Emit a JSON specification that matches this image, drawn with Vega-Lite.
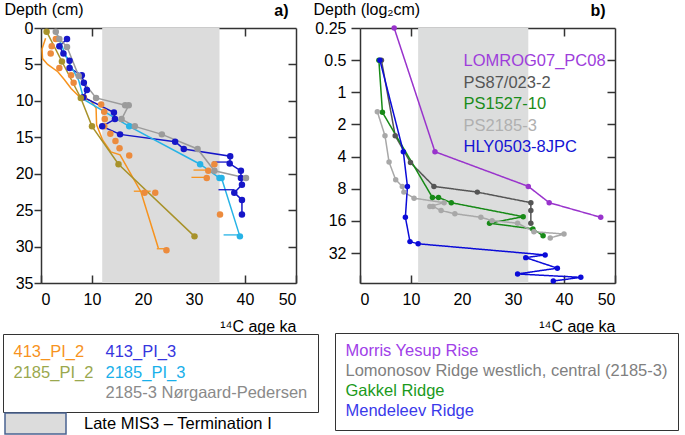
{
  "$schema": "https://vega.github.io/schema/vega-lite/v6.json",
  "padding": {"left": 2, "top": 1, "right": 0, "bottom": 0},
  "background": "white",
  "bounds": "flush",
  "spacing": 64,
  "config": {
    "font": "Liberation Sans",
    "view": {"stroke": null},
    "axis": {"domain": true, "domainColor": "#333333", "domainWidth": 1.5, "grid": false, "labelFontSize": 16, "labelColor": "#000000", "tickColor": "#333333", "tickWidth": 1.5, "titleFontSize": 16, "titleFontWeight": "normal", "titleColor": "#000000", "labelFont": "Liberation Sans", "titleFont": "Liberation Sans"},
    "legend": {"labelFont": "Liberation Sans", "labelLimit": 500}
  },
  "resolve": {
    "scale": {"color": "independent", "fill": "independent", "strokeDash": "independent"},
    "legend": {"color": "independent", "fill": "independent", "strokeDash": "independent"}
  },
  "datasets": {
    "lineA": [
      {"s": "413_PI_2", "a": 0.9, "d": 1.4, "i": 1}, {"s": "413_PI_2", "a": 0.2, "d": 2.9, "i": 2}, {"s": "413_PI_2", "a": 0.3, "d": 4.2, "i": 3}, {"s": "413_PI_2", "a": 1.3, "d": 5.0, "i": 4}, {"s": "413_PI_2", "a": 3.3, "d": 6.0, "i": 5}, {"s": "413_PI_2", "a": 4.6, "d": 7.1, "i": 6}, {"s": "413_PI_2", "a": 5.9, "d": 8.3, "i": 7}, {"s": "413_PI_2", "a": 7.5, "d": 9.4, "i": 8}, {"s": "413_PI_2", "a": 9.8, "d": 10.0, "i": 9}, {"s": "413_PI_2", "a": 10.8, "d": 11.0, "i": 10}, {"s": "413_PI_2", "a": 10.9, "d": 13.3, "i": 11}, {"s": "413_PI_2", "a": 12.1, "d": 15.4, "i": 12}, {"s": "413_PI_2", "a": 13.7, "d": 17.0, "i": 13}, {"s": "413_PI_2", "a": 15.5, "d": 17.4, "i": 14}, {"s": "413_PI_2", "a": 19.6, "d": 22.5, "i": 15}, {"s": "413_PI_2", "a": 23.0, "d": 30.2, "i": 16},
      {"s": "413_PI_3", "a": 5.1, "d": 1.5, "i": 1}, {"s": "413_PI_3", "a": 3.6, "d": 2.5, "i": 2}, {"s": "413_PI_3", "a": 4.4, "d": 3.5, "i": 3}, {"s": "413_PI_3", "a": 5.6, "d": 4.5, "i": 4}, {"s": "413_PI_3", "a": 5.6, "d": 5.5, "i": 5}, {"s": "413_PI_3", "a": 8.0, "d": 6.5, "i": 6}, {"s": "413_PI_3", "a": 8.4, "d": 7.5, "i": 7}, {"s": "413_PI_3", "a": 9.0, "d": 8.5, "i": 8}, {"s": "413_PI_3", "a": 8.3, "d": 9.5, "i": 9}, {"s": "413_PI_3", "a": 14.3, "d": 11.6, "i": 10}, {"s": "413_PI_3", "a": 14.5, "d": 12.5, "i": 11}, {"s": "413_PI_3", "a": 12.0, "d": 13.5, "i": 12}, {"s": "413_PI_3", "a": 15.5, "d": 14.6, "i": 13}, {"s": "413_PI_3", "a": 26.3, "d": 15.6, "i": 14}, {"s": "413_PI_3", "a": 28.0, "d": 16.6, "i": 15}, {"s": "413_PI_3", "a": 37.1, "d": 17.6, "i": 16}, {"s": "413_PI_3", "a": 37.0, "d": 18.6, "i": 17}, {"s": "413_PI_3", "a": 39.2, "d": 19.6, "i": 18}, {"s": "413_PI_3", "a": 39.2, "d": 20.6, "i": 19}, {"s": "413_PI_3", "a": 39.4, "d": 21.5, "i": 20}, {"s": "413_PI_3", "a": 37.9, "d": 22.6, "i": 21}, {"s": "413_PI_3", "a": 39.4, "d": 23.6, "i": 22}, {"s": "413_PI_3", "a": 39.4, "d": 25.6, "i": 23},
      {"s": "2185_PI_2", "a": 1.1, "d": 0.5, "i": 1}, {"s": "2185_PI_2", "a": 4.1, "d": 4.6, "i": 2}, {"s": "2185_PI_2", "a": 7.8, "d": 9.6, "i": 3}, {"s": "2185_PI_2", "a": 10.0, "d": 13.5, "i": 4}, {"s": "2185_PI_2", "a": 15.2, "d": 18.7, "i": 5}, {"s": "2185_PI_2", "a": 30.1, "d": 28.6, "i": 6},
      {"s": "2185_PI_3", "a": 2.9, "d": 0.5, "i": 1}, {"s": "2185_PI_3", "a": 5.3, "d": 4.5, "i": 2}, {"s": "2185_PI_3", "a": 7.4, "d": 7.2, "i": 3}, {"s": "2185_PI_3", "a": 8.4, "d": 9.8, "i": 4}, {"s": "2185_PI_3", "a": 17.3, "d": 13.5, "i": 5}, {"s": "2185_PI_3", "a": 31.2, "d": 18.7, "i": 6}, {"s": "2185_PI_3", "a": 35.0, "d": 20.6, "i": 7}, {"s": "2185_PI_3", "a": 35.4, "d": 20.6, "i": 8}, {"s": "2185_PI_3", "a": 39.0, "d": 28.6, "i": 9},
      {"s": "2185-3 Nørgaard-Pedersen", "a": 2.9, "d": 0.5, "i": 1}, {"s": "2185-3 Nørgaard-Pedersen", "a": 3.6, "d": 1.5, "i": 2}, {"s": "2185-3 Nørgaard-Pedersen", "a": 5.1, "d": 2.6, "i": 3}, {"s": "2185-3 Nørgaard-Pedersen", "a": 7.4, "d": 6.6, "i": 4}, {"s": "2185-3 Nørgaard-Pedersen", "a": 10.8, "d": 9.6, "i": 5}, {"s": "2185-3 Nørgaard-Pedersen", "a": 16.5, "d": 10.6, "i": 6}, {"s": "2185-3 Nørgaard-Pedersen", "a": 17.2, "d": 10.6, "i": 7}, {"s": "2185-3 Nørgaard-Pedersen", "a": 15.8, "d": 12.5, "i": 8}, {"s": "2185-3 Nørgaard-Pedersen", "a": 18.4, "d": 13.5, "i": 9}, {"s": "2185-3 Nørgaard-Pedersen", "a": 23.7, "d": 14.6, "i": 10}, {"s": "2185-3 Nørgaard-Pedersen", "a": 30.7, "d": 16.6, "i": 11}, {"s": "2185-3 Nørgaard-Pedersen", "a": 34.0, "d": 19.6, "i": 12}, {"s": "2185-3 Nørgaard-Pedersen", "a": 40.2, "d": 20.6, "i": 13}
    ],
    "ptsA": [
      {"s": "413_PI_3", "a": 5.1, "d": 1.5}, {"s": "413_PI_3", "a": 3.6, "d": 2.5}, {"s": "413_PI_3", "a": 4.4, "d": 3.5}, {"s": "413_PI_3", "a": 5.6, "d": 4.5}, {"s": "413_PI_3", "a": 5.6, "d": 5.5}, {"s": "413_PI_3", "a": 8.0, "d": 6.5}, {"s": "413_PI_3", "a": 8.4, "d": 7.5}, {"s": "413_PI_3", "a": 9.0, "d": 8.5}, {"s": "413_PI_3", "a": 8.3, "d": 9.5}, {"s": "413_PI_3", "a": 14.3, "d": 11.6}, {"s": "413_PI_3", "a": 14.5, "d": 12.5}, {"s": "413_PI_3", "a": 12.0, "d": 13.5}, {"s": "413_PI_3", "a": 15.5, "d": 14.6}, {"s": "413_PI_3", "a": 26.3, "d": 15.6}, {"s": "413_PI_3", "a": 28.0, "d": 16.6}, {"s": "413_PI_3", "a": 37.1, "d": 17.6}, {"s": "413_PI_3", "a": 37.0, "d": 18.6}, {"s": "413_PI_3", "a": 39.2, "d": 19.6}, {"s": "413_PI_3", "a": 39.2, "d": 20.6}, {"s": "413_PI_3", "a": 39.4, "d": 21.5}, {"s": "413_PI_3", "a": 37.9, "d": 22.6}, {"s": "413_PI_3", "a": 39.4, "d": 23.6}, {"s": "413_PI_3", "a": 39.4, "d": 25.6},
      {"s": "2185_PI_2", "a": 1.1, "d": 0.5}, {"s": "2185_PI_2", "a": 4.1, "d": 4.6}, {"s": "2185_PI_2", "a": 7.8, "d": 9.6}, {"s": "2185_PI_2", "a": 10.0, "d": 13.5}, {"s": "2185_PI_2", "a": 15.2, "d": 18.7}, {"s": "2185_PI_2", "a": 30.1, "d": 28.6},
      {"s": "2185_PI_3", "a": 17.3, "d": 13.5}, {"s": "2185_PI_3", "a": 31.2, "d": 18.7}, {"s": "2185_PI_3", "a": 35.0, "d": 20.6}, {"s": "2185_PI_3", "a": 35.4, "d": 20.6}, {"s": "2185_PI_3", "a": 39.0, "d": 28.6},
      {"s": "2185-3 Nørgaard-Pedersen", "a": 2.9, "d": 0.5}, {"s": "2185-3 Nørgaard-Pedersen", "a": 3.6, "d": 1.5}, {"s": "2185-3 Nørgaard-Pedersen", "a": 5.1, "d": 2.6}, {"s": "2185-3 Nørgaard-Pedersen", "a": 7.4, "d": 6.6}, {"s": "2185-3 Nørgaard-Pedersen", "a": 10.8, "d": 9.6}, {"s": "2185-3 Nørgaard-Pedersen", "a": 16.5, "d": 10.6}, {"s": "2185-3 Nørgaard-Pedersen", "a": 17.2, "d": 10.6}, {"s": "2185-3 Nørgaard-Pedersen", "a": 15.8, "d": 12.5}, {"s": "2185-3 Nørgaard-Pedersen", "a": 18.4, "d": 13.5}, {"s": "2185-3 Nørgaard-Pedersen", "a": 23.7, "d": 14.6}, {"s": "2185-3 Nørgaard-Pedersen", "a": 30.7, "d": 16.6}, {"s": "2185-3 Nørgaard-Pedersen", "a": 34.0, "d": 19.6}, {"s": "2185-3 Nørgaard-Pedersen", "a": 40.2, "d": 20.6}
    ],
    "dotsA": [
      {"a": 2.9, "d": 1.5}, {"a": 2.1, "d": 2.5}, {"a": 1.9, "d": 3.5}, {"a": 3.6, "d": 5.5}, {"a": 5.9, "d": 6.5}, {"a": 6.4, "d": 7.5}, {"a": 8.4, "d": 9.5}, {"a": 11.8, "d": 10.5}, {"a": 12.4, "d": 11.5}, {"a": 12.5, "d": 12.5}, {"a": 12.4, "d": 13.5}, {"a": 13.6, "d": 14.5}, {"a": 14.6, "d": 15.5}, {"a": 15.4, "d": 16.5}, {"a": 17.3, "d": 17.5}, {"a": 34.0, "d": 18.7}, {"a": 32.8, "d": 19.6}, {"a": 32.5, "d": 20.6}, {"a": 20.3, "d": 22.6}, {"a": 22.4, "d": 22.6}, {"a": 35.1, "d": 25.6}, {"a": 24.6, "d": 30.5}
    ],
    "errA": [
      {"s": "413_PI_2", "lo": 29.9, "hi": 32.8, "d": 19.5}, {"s": "413_PI_2", "lo": 29.5, "hi": 32.5, "d": 20.5}, {"s": "413_PI_2", "lo": 18.2, "hi": 21.5, "d": 22.4}, {"s": "413_PI_2", "lo": 22.7, "hi": 24.8, "d": 30.3},
      {"s": "413_PI_3", "lo": 33.7, "hi": 37.0, "d": 18.4}, {"s": "413_PI_3", "lo": 34.8, "hi": 37.9, "d": 22.2},
      {"s": "2185_PI_3", "lo": 35.8, "hi": 39.1, "d": 28.4}
    ],
    "bandA": [{"start": 12, "end": 35, "period": "Late MIS3 – Termination I"}],
    "bandB": [{"start": 11.4, "end": 33}],
    "lineB": [
      {"c": "LOMROG07_PC08", "r": "Morris Yesup Rise", "a": 6.7, "d": 0.25, "i": 1}, {"c": "LOMROG07_PC08", "r": "Morris Yesup Rise", "a": 14.7, "d": 3.6, "i": 2}, {"c": "LOMROG07_PC08", "r": "Morris Yesup Rise", "a": 33.0, "d": 7.6, "i": 3}, {"c": "LOMROG07_PC08", "r": "Morris Yesup Rise", "a": 37.1, "d": 10.8, "i": 4}, {"c": "LOMROG07_PC08", "r": "Morris Yesup Rise", "a": 47.2, "d": 14.8, "i": 5},
      {"c": "PS87/023-2", "r": "Lomonosov Ridge westlich, central (2185-3)", "a": 4.2, "d": 0.5, "i": 1}, {"c": "PS87/023-2", "r": "Lomonosov Ridge westlich, central (2185-3)", "a": 6.9, "d": 2.55, "i": 2}, {"c": "PS87/023-2", "r": "Lomonosov Ridge westlich, central (2185-3)", "a": 9.9, "d": 4.55, "i": 3}, {"c": "PS87/023-2", "r": "Lomonosov Ridge westlich, central (2185-3)", "a": 14.5, "d": 7.6, "i": 4}, {"c": "PS87/023-2", "r": "Lomonosov Ridge westlich, central (2185-3)", "a": 23.0, "d": 8.6, "i": 5}, {"c": "PS87/023-2", "r": "Lomonosov Ridge westlich, central (2185-3)", "a": 33.5, "d": 10.8, "i": 6}, {"c": "PS87/023-2", "r": "Lomonosov Ridge westlich, central (2185-3)", "a": 33.5, "d": 12.8, "i": 7}, {"c": "PS87/023-2", "r": "Lomonosov Ridge westlich, central (2185-3)", "a": 33.5, "d": 16.8, "i": 8},
      {"c": "PS1527-10", "r": "Gakkel Ridge", "a": 3.7, "d": 0.5, "i": 1}, {"c": "PS1527-10", "r": "Gakkel Ridge", "a": 4.4, "d": 1.54, "i": 2}, {"c": "PS1527-10", "r": "Gakkel Ridge", "a": 14.2, "d": 9.65, "i": 3}, {"c": "PS1527-10", "r": "Gakkel Ridge", "a": 15.4, "d": 9.65, "i": 4}, {"c": "PS1527-10", "r": "Gakkel Ridge", "a": 17.9, "d": 10.8, "i": 5}, {"c": "PS1527-10", "r": "Gakkel Ridge", "a": 32.0, "d": 14.6, "i": 6}, {"c": "PS1527-10", "r": "Gakkel Ridge", "a": 25.4, "d": 16.8, "i": 7}, {"c": "PS1527-10", "r": "Gakkel Ridge", "a": 33.9, "d": 19.0, "i": 8}, {"c": "PS1527-10", "r": "Gakkel Ridge", "a": 35.9, "d": 22.0, "i": 9},
      {"c": "PS2185-3", "r": "Lomonosov Ridge westlich, central (2185-3)", "a": 3.4, "d": 1.52, "i": 1}, {"c": "PS2185-3", "r": "Lomonosov Ridge westlich, central (2185-3)", "a": 4.9, "d": 2.55, "i": 2}, {"c": "PS2185-3", "r": "Lomonosov Ridge westlich, central (2185-3)", "a": 5.7, "d": 4.5, "i": 3}, {"c": "PS2185-3", "r": "Lomonosov Ridge westlich, central (2185-3)", "a": 7.0, "d": 6.6, "i": 4}, {"c": "PS2185-3", "r": "Lomonosov Ridge westlich, central (2185-3)", "a": 8.3, "d": 7.6, "i": 5}, {"c": "PS2185-3", "r": "Lomonosov Ridge westlich, central (2185-3)", "a": 8.6, "d": 8.6, "i": 6}, {"c": "PS2185-3", "r": "Lomonosov Ridge westlich, central (2185-3)", "a": 10.6, "d": 9.8, "i": 7}, {"c": "PS2185-3", "r": "Lomonosov Ridge westlich, central (2185-3)", "a": 16.5, "d": 10.8, "i": 8}, {"c": "PS2185-3", "r": "Lomonosov Ridge westlich, central (2185-3)", "a": 13.7, "d": 11.7, "i": 9}, {"c": "PS2185-3", "r": "Lomonosov Ridge westlich, central (2185-3)", "a": 14.3, "d": 11.7, "i": 10}, {"c": "PS2185-3", "r": "Lomonosov Ridge westlich, central (2185-3)", "a": 15.9, "d": 12.8, "i": 11}, {"c": "PS2185-3", "r": "Lomonosov Ridge westlich, central (2185-3)", "a": 18.6, "d": 13.7, "i": 12}, {"c": "PS2185-3", "r": "Lomonosov Ridge westlich, central (2185-3)", "a": 23.7, "d": 14.8, "i": 13}, {"c": "PS2185-3", "r": "Lomonosov Ridge westlich, central (2185-3)", "a": 25.9, "d": 15.9, "i": 14}, {"c": "PS2185-3", "r": "Lomonosov Ridge westlich, central (2185-3)", "a": 30.9, "d": 16.8, "i": 15}, {"c": "PS2185-3", "r": "Lomonosov Ridge westlich, central (2185-3)", "a": 34.1, "d": 20.2, "i": 16}, {"c": "PS2185-3", "r": "Lomonosov Ridge westlich, central (2185-3)", "a": 40.0, "d": 21.2, "i": 17}, {"c": "PS2185-3", "r": "Lomonosov Ridge westlich, central (2185-3)", "a": 37.3, "d": 23.1, "i": 18},
      {"c": "HLY0503-8JPC", "r": "Mendeleev Ridge", "a": 3.9, "d": 0.5, "i": 1}, {"c": "HLY0503-8JPC", "r": "Mendeleev Ridge", "a": 8.5, "d": 3.6, "i": 2}, {"c": "HLY0503-8JPC", "r": "Mendeleev Ridge", "a": 9.3, "d": 7.6, "i": 3}, {"c": "HLY0503-8JPC", "r": "Mendeleev Ridge", "a": 8.9, "d": 14.8, "i": 4}, {"c": "HLY0503-8JPC", "r": "Mendeleev Ridge", "a": 9.8, "d": 25.0, "i": 5}, {"c": "HLY0503-8JPC", "r": "Mendeleev Ridge", "a": 11.4, "d": 26.2, "i": 6}, {"c": "HLY0503-8JPC", "r": "Mendeleev Ridge", "a": 36.3, "d": 33.3, "i": 7}, {"c": "HLY0503-8JPC", "r": "Mendeleev Ridge", "a": 32.5, "d": 35.3, "i": 8}, {"c": "HLY0503-8JPC", "r": "Mendeleev Ridge", "a": 38.7, "d": 44.3, "i": 9}, {"c": "HLY0503-8JPC", "r": "Mendeleev Ridge", "a": 30.9, "d": 50.2, "i": 10}, {"c": "HLY0503-8JPC", "r": "Mendeleev Ridge", "a": 43.3, "d": 54.0, "i": 11}, {"c": "HLY0503-8JPC", "r": "Mendeleev Ridge", "a": 37.9, "d": 58.5, "i": 12}
    ]
  },
  "hconcat": [
    {
      "width": 255,
      "height": 255,
      "resolve": {"axis": {"x": "independent", "y": "independent"}, "scale": {"fill": "independent"}, "legend": {"fill": "independent"}},
      "layer": [
        {
          "data": {"name": "bandA"},
          "mark": {"type": "rect"},
          "encoding": {
            "x": {"field": "start", "type": "quantitative", "scale": {"domain": [0, 50], "nice": false}, "axis": {"orient": "top", "labels": false, "values": [10, 20, 30, 40], "tickSize": -8, "title": "a)", "titleFontWeight": "bold", "titleFontSize": 16, "titleAlign": "right", "titleAnchor": "end", "titleX": 247, "titleY": -13, "titleBaseline": "alphabetic"}},
            "x2": {"field": "end"},
            "fill": {"field": "period", "type": "nominal", "scale": {"range": ["#dcdcdc"]},
              "legend": {"orient": "none", "legendX": -37, "legendY": 364, "title": null, "padding": 0, "symbolType": "M-1,-0.344H1V0.344H-1Z", "symbolSize": 3721, "symbolStrokeColor": "#4a6391", "symbolStrokeWidth": 1.5, "labelOffset": 17, "labelFontSize": 16.5, "labelColor": "#000000"}}
          }
        },
        {
          "data": {"name": "lineA"},
          "mark": {"type": "line", "strokeWidth": 1.5},
          "encoding": {
            "x": {"field": "a", "type": "quantitative", "scale": {"domain": [0, 50], "nice": false}, "axis": {"orient": "bottom", "values": [0, 10, 20, 30, 40, 50], "tickSize": -8, "labelPadding": 16, "title": "¹⁴C age ka", "titleAnchor": "end", "titleAlign": "right", "titleX": 255, "titleY": 48, "titleBaseline": "alphabetic"}},
            "y": {"field": "d", "type": "quantitative", "scale": {"domain": [0, 35], "reverse": true, "nice": false}, "axis": {"orient": "left", "values": [0, 5, 10, 15, 20, 25, 30, 35], "tickSize": 7, "labelPadding": 1, "title": "Depth (cm)", "titleAngle": 0, "titleAlign": "left", "titleX": -37, "titleY": -14, "titleBaseline": "alphabetic"}},
            "color": {"field": "s", "type": "nominal",
              "scale": {"domain": ["413_PI_2", "2185_PI_2", " ", "413_PI_3", "2185_PI_3", "2185-3 Nørgaard-Pedersen"], "range": ["#f7931e", "#a8922a", "#ffffff", "#1616c8", "#27b3e6", "#9b9b9b"]},
              "legend": {"orient": "none", "legendX": -38, "legendY": 306, "title": null, "columns": 2, "columnPadding": 11, "rowPadding": 3.5, "padding": 10, "strokeColor": "#333333", "fillColor": "#ffffff", "symbolSize": 1, "symbolOpacity": 0, "symbolStrokeWidth": 0, "labelOffset": -16, "labelFontSize": 16.5,
                "labelColor": {"expr": "datum.value === '413_PI_2' ? '#f7931e' : datum.value === '413_PI_3' ? '#3636de' : datum.value === '2185_PI_2' ? '#9aa84e' : datum.value === '2185_PI_3' ? '#19b0ea' : '#8a8a8a'"}}},
            "order": {"field": "i", "type": "quantitative"}
          }
        },
        {
          "data": {"name": "errA"},
          "mark": {"type": "rule", "strokeWidth": 1.3},
          "encoding": {
            "x": {"field": "lo", "type": "quantitative", "axis": null},
            "x2": {"field": "hi"},
            "y": {"field": "d", "type": "quantitative", "axis": null},
            "color": {"field": "s", "type": "nominal"}
          }
        },
        {
          "data": {"name": "dotsA"},
          "mark": {"type": "point", "filled": true, "size": 42, "opacity": 1, "color": "#ec8b3d"},
          "encoding": {
            "x": {"field": "a", "type": "quantitative", "axis": null},
            "y": {"field": "d", "type": "quantitative", "axis": {"orient": "right", "labels": false, "title": null, "values": [5, 10, 15, 20, 25, 30], "tickSize": -8}}
          }
        },
        {
          "data": {"name": "ptsA"},
          "mark": {"type": "point", "filled": true, "size": 42, "opacity": 1, "strokeWidth": 0},
          "encoding": {
            "x": {"field": "a", "type": "quantitative", "axis": null},
            "y": {"field": "d", "type": "quantitative", "axis": null},
            "fill": {"field": "s", "type": "nominal", "legend": null,
              "scale": {"domain": ["413_PI_3", "2185_PI_2", "2185_PI_3", "2185-3 Nørgaard-Pedersen"], "range": ["#1616c8", "#a8922a", "#27b3e6", "#9b9b9b"]}}
          }
        }
      ]
    },
    {
      "width": 255,
      "height": 255,
      "resolve": {"axis": {"x": "independent", "y": "independent"}},
      "layer": [
        {
          "data": {"name": "bandB"},
          "mark": {"type": "rect", "color": "#dcdddd"},
          "encoding": {
            "x": {"field": "start", "type": "quantitative", "scale": {"domain": [0, 50], "nice": false}, "axis": {"orient": "top", "labels": false, "values": [10, 20, 30, 40], "tickSize": -8, "title": "b)", "titleFontWeight": "bold", "titleFontSize": 16, "titleAlign": "right", "titleAnchor": "end", "titleX": 245, "titleY": -13, "titleBaseline": "alphabetic"}},
            "x2": {"field": "end"}
          }
        },
        {
          "data": {"name": "lineB"},
          "mark": {"type": "line", "strokeWidth": 1.5},
          "encoding": {
            "x": {"field": "a", "type": "quantitative", "scale": {"domain": [0, 50], "nice": false}, "axis": {"orient": "bottom", "values": [0, 10, 20, 30, 40, 50], "tickSize": -8, "labelPadding": 16, "title": "¹⁴C age ka", "titleAnchor": "end", "titleAlign": "right", "titleX": 255, "titleY": 48, "titleBaseline": "alphabetic"}},
            "y": {"field": "d", "type": "quantitative", "scale": {"type": "log", "base": 2, "domain": [0.25, 61], "reverse": true, "nice": false}, "axis": {"orient": "left", "values": [0.25, 0.5, 1, 2, 4, 8, 16, 32], "format": "~g", "tickSize": 9, "labelPadding": 5, "title": "Depth (log₂cm)", "titleAngle": 0, "titleAlign": "left", "titleX": -47, "titleY": -14, "titleBaseline": "alphabetic"}},
            "color": {"field": "c", "type": "nominal",
              "scale": {"domain": ["LOMROG07_PC08", "PS87/023-2", "PS1527-10", "PS2185-3", "HLY0503-8JPC"], "range": ["#9933cc", "#555555", "#178a17", "#a8a8a8", "#0b0bd8"]},
              "legend": {"orient": "none", "legendX": 103, "legendY": 25, "title": null, "padding": 0, "rowPadding": 4.5, "symbolSize": 1, "symbolOpacity": 0, "symbolStrokeWidth": 0, "labelOffset": -16, "labelFontSize": 16.5,
                "labelColor": {"expr": "datum.value === 'LOMROG07_PC08' ? '#9e3ddb' : datum.value === 'PS87/023-2' ? '#555555' : datum.value === 'PS1527-10' ? '#1a8c1a' : datum.value === 'PS2185-3' ? '#b0b0b0' : '#1414d4'"}}},
            "strokeDash": {"field": "r", "type": "nominal",
              "scale": {"domain": ["Morris Yesup Rise", "Lomonosov Ridge westlich, central (2185-3)", "Gakkel Ridge", "Mendeleev Ridge"], "range": [[1, 0], [1, 0], [1, 0], [1, 0]]},
              "legend": {"orient": "none", "legendX": -25, "legendY": 305, "title": null, "padding": 10, "rowPadding": 3, "strokeColor": "#333333", "fillColor": "#ffffff", "symbolSize": 1, "symbolOpacity": 0, "symbolStrokeWidth": 0, "labelOffset": -16, "labelFontSize": 16.5,
                "labelColor": {"expr": "datum.value === 'Morris Yesup Rise' ? '#a040e8' : datum.value === 'Gakkel Ridge' ? '#1c9a1c' : datum.value === 'Mendeleev Ridge' ? '#3a3aea' : '#808080'"}}},
            "order": {"field": "i", "type": "quantitative"}
          }
        },
        {
          "data": {"name": "lineB"},
          "mark": {"type": "point", "filled": true, "size": 30, "opacity": 1, "strokeWidth": 0},
          "encoding": {
            "x": {"field": "a", "type": "quantitative", "axis": null},
            "y": {"field": "d", "type": "quantitative", "axis": {"orient": "right", "labels": false, "title": null, "values": [0.5, 1, 2, 4, 8, 16, 32], "tickSize": -8}},
            "fill": {"field": "c", "type": "nominal", "legend": null,
              "scale": {"domain": ["LOMROG07_PC08", "PS87/023-2", "PS1527-10", "PS2185-3", "HLY0503-8JPC"], "range": ["#9933cc", "#555555", "#178a17", "#a8a8a8", "#0b0bd8"]}}
          }
        }
      ]
    }
  ]
}
